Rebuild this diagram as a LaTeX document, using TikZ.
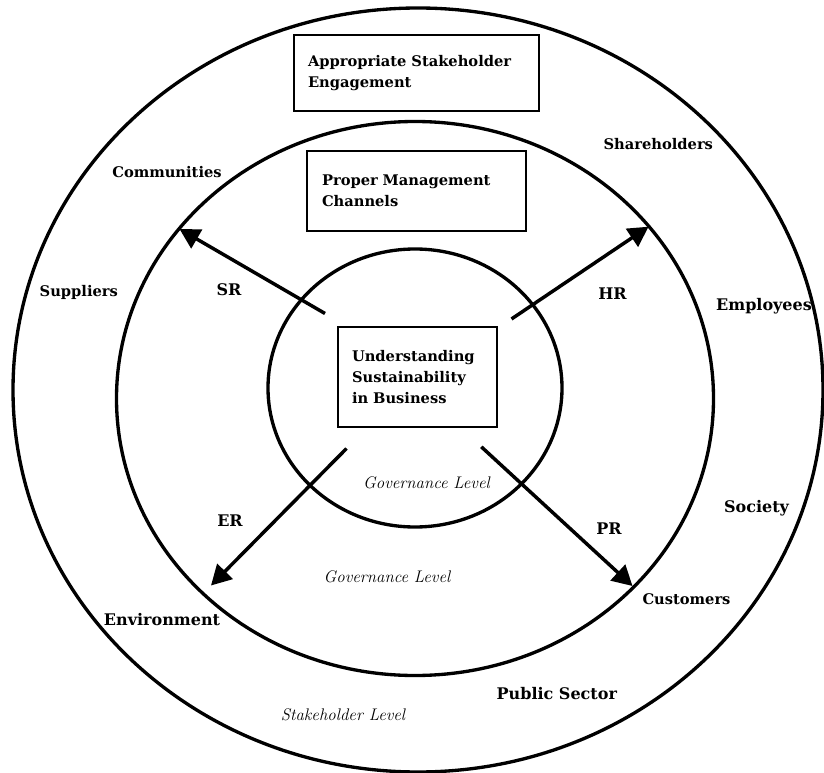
\documentclass[tikz,border=0pt]{standalone}
\usepackage{fontspec}
\newfontfamily\labelfont{DejaVu Serif}
\usepackage{tikz}
\usetikzlibrary{arrows.meta}

\begin{document}
\begin{tikzpicture}[
    x=0.75pt, y=-0.75pt,
    every node/.style={font=\labelfont\fontsize{11}{15.6}\selectfont\bfseries},
    box/.style={rectangle, draw, line width=1.4pt, align=left, inner xsep=10.5pt},
    ring/.style={line width=2.5pt},
    lbl/.style={inner sep=0pt, font=\labelfont\fontsize{#1}{#1}\selectfont\bfseries},
    lbl/.default=11,
    lvl/.style={inner sep=0pt, font=\normalfont\fontsize{12.6}{14}\selectfont\itshape},
    arrow/.style={-{Triangle[length=15pt, width=16pt]}, line width=2.6pt},
]
\useasboundingbox (0,0) rectangle (824,773);

% Levels
\draw[ring] (418,390) ellipse [x radius=405, y radius=382];
\draw[ring] (415,398.5) ellipse [x radius=298.5, y radius=277];
\draw[ring] (415,388) ellipse [x radius=147, y radius=139];

% Boxes
\node[box, text width=162.75pt, minimum height=57pt] (engage) at (416.5,73) {Appropriate Stakeholder\\Engagement};
\node[box, text width=141.75pt, inner xsep=11.25pt, minimum height=60pt] (channels) at (416.5,191) {Proper Management\\Channels};
\node[box, text width=98.25pt, minimum height=75pt] (business) at (417.5,377) {Understanding\\Sustainability\\in Business};

% Stakeholders
\node[lbl] (communities) at (167,171.7) {Communities};
\node[lbl] (shareholders) at (658.3,144) {Shareholders};
\node[lbl] (suppliers) at (78.8,292.5) {Suppliers};
\node[lbl=12] (employees) at (764,306) {Employees};
\node[lbl=12] (society) at (756.5,508) {Society};
\node[lbl] (customers) at (686.5,599) {Customers};
\node[lbl=12] (environment) at (162,619.5) {Environment};
\node[lbl=12] (public) at (556.8,694) {Public Sector};

% Responsibilities
\node[lbl=12] (sr) at (229,290) {SR};
\node[lbl=12] (hr) at (612.5,294) {HR};
\node[lbl=12] (er) at (230,521) {ER};
\node[lbl=12] (pr) at (609,529) {PR};

% Level names
\node[lvl] (govin) at (426.5,483) {Governance Level};
\node[lvl] (govmid) at (387,577) {Governance Level};
\node[lvl] (stake) at (343,715) {Stakeholder Level};

% Arrows
\coordinate (srfrom) at (325,313.5);
\coordinate (srto) at (179.5,229);
\coordinate (hrfrom) at (511.5,319);
\coordinate (hrto) at (648.5,226.7);
\coordinate (erfrom) at (346.5,448.5);
\coordinate (erto) at (211,585.5);
\coordinate (prfrom) at (481.3,446.8);
\coordinate (prto) at (632.5,586);
\draw[arrow] (srfrom) -- (srto);
\draw[arrow] (hrfrom) -- (hrto);
\draw[arrow] (erfrom) -- (erto);
\draw[arrow] (prfrom) -- (prto);

\end{tikzpicture}
\end{document}
